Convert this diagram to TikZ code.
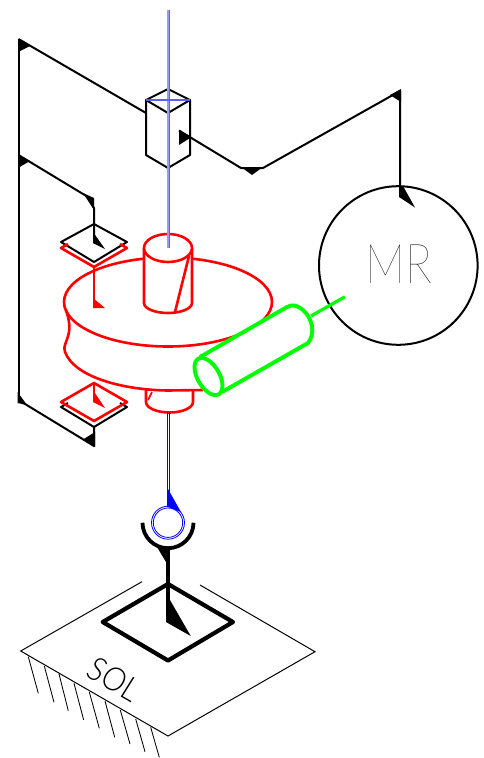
\documentclass[tikz,border=0pt]{standalone}
\usepackage{fontspec}
\newfontfamily\thinf{Lato Thin}
\newfontfamily\lightf{Lato Light}
\definecolor{pureblue}{rgb}{0,0,1}
\definecolor{pairblue}{rgb}{0.36,0.36,1}
\definecolor{pairfill}{rgb}{0.6,0.6,1}
\definecolor{puregreen}{rgb}{0,1,0}
\definecolor{purered}{rgb}{1,0,0}
\tikzset{
  wire/.style={black,line width=2pt,line join=round},
  redl/.style={purered,line width=2.6pt,line join=round},
  greenl/.style={puregreen,line width=3.9pt,line join=round},
  axisa/.style={pairblue,line width=3pt},
  axisin/.style={pairfill,line width=1.1pt},
  axisb/.style={pureblue,line width=.8pt},
  thinb/.style={pureblue,line width=.8pt},
  thick3/.style={black,line width=3.8pt,line join=round},
  fine/.style={black,line width=1pt},
}
\begin{document}
\begin{tikzpicture}[x=1pt,y=-1pt]
\useasboundingbox (0,0) rectangle (484,758);
% black wiring
\coordinate (a1) at (18.5,39);
\coordinate (a2) at (18.5,155);
\coordinate (a3) at (18.5,400);
\draw[wire] (a1) -- (18.5,403);
\draw[wire] (a3) -- (94,446) -- (94,427);
\draw[wire] (a1) -- (146,113);
\draw[wire] (a2) -- (88,197) -- (94,208) -- (94,243);
\fill (18,39) -- (30,46) -- (18,52) -- cycle;
\fill (18,155) -- (30,161) -- (18,168) -- cycle;
\fill (17.5,392) -- (27,405) -- (17.5,403) -- cycle;
\fill (83,439.5) -- (95,432) -- (95,447) -- cycle;
\fill (83,193) -- (94,198) -- (94,210) -- cycle;
\fill (93,232) -- (105,249) -- (93,243) -- cycle;
% upper diamonds
\draw[wire] (94,224) -- (127,242) -- (94,262) -- (61,242) -- cycle;
\draw[redl] (68,244) -- (61,248) -- (94,267) -- (127,248) -- (120,244);
\draw[redl] (94,267) -- (94,308);
\fill[purered] (93,298) -- (105,308) -- (93,308) -- cycle;
% disc
\draw[redl] (168,302) ellipse [x radius=104pt,y radius=44.5pt];
\draw[redl] (66,310) .. controls (71,325) and (70,332) .. (66,342) .. controls (64,347) and (64,350) .. (65,352) .. controls (75,378) and (125,390) .. (168,390.5) -- (203,390);
% lower stub
\draw[redl] (146,390) -- (146,402) .. controls (146,408) and (157,412.5) .. (169.5,412.5) .. controls (182,412.5) and (193,408) .. (193,402) -- (193,390);
\draw[redl,line width=1.6pt] (148,400) -- (152,392);
% upper cylinder
\draw[redl,fill=white] (144,248) -- (144,303) .. controls (144,309) and (156,313) .. (168,313) .. controls (180,313) and (192,309) .. (192,303) -- (192,248);
\draw[redl,fill=white] (168,248) ellipse [x radius=24pt,y radius=14pt];
\draw[redl] (189,256) -- (175,312);
% lower diamonds
\draw[wire] (68,403) -- (61,407) -- (94,427) -- (127,407) -- (120,403);
\draw[redl] (94,383) -- (127,402) -- (94,421) -- (61,402) -- cycle;
\draw[redl] (94,383) -- (94,402);
\fill[purered] (93,390) -- (105,408) -- (93,402) -- cycle;
% box
\draw[wire,fill=white] (146,100) -- (168,89) -- (190,100) -- (190,155) -- (168,168) -- (146,155) -- cycle;
\draw[wire] (146,100) -- (168,113) -- (190,100);
\draw[wire] (168,113) -- (168,168);
% blue axis
\draw[axisa] (168,10) -- (168,248);
\draw[axisin] (168,10) -- (168,248);
\draw[axisa,line width=2.2pt] (146,100) -- (190,100);
\draw[axisb] (166.9,412) -- (166.9,507);
\draw[axisb] (169.3,412) -- (169.3,507);
\fill[pureblue] (168,489) -- (181,512) -- (168,507) -- cycle;
\draw[thinb] (168,522.7) circle [radius=16.5pt];
\draw[thinb] (168,522.7) circle [radius=14.7pt];
% box right wire
\draw[wire] (179,130.5) -- (241,168) -- (263,168) -- (400,91) -- (400,197);
\fill (179,131) -- (190,138) -- (179,145) -- cycle;
\fill (241,167) -- (252,175) -- (263,167) -- cycle;
\fill (390,95) -- (401,89) -- (401,102) -- cycle;
\fill (399,186) -- (403,186) -- (415,207.5) -- (399,197) -- cycle;
% MR circle
\node[draw,circle,line width=2pt,minimum size=158.6pt,inner sep=0pt] (mr) at (398.3,265.5) {};
\node[inner sep=0pt,xscale=.82,transform shape] (mrt) at (399,264) {\thinf\fontsize{55}{55}\selectfont MR};
% green
\coordinate (g1) at (345,296.7);
\draw[greenl,line width=3.2pt] (g1) -- (311,316);
\draw[greenl,fill=white] (200,357) -- (287,307) .. controls (293,303.5) and (298,306) .. (303,310) .. controls (312,318) and (316,333) .. (308,343) -- (222,392);
\draw[greenl,fill=white,shift={(208.5,376.5)},rotate=30] (0,0) ellipse [x radius=11pt,y radius=20.5pt];
% cup and lower post
\draw[thick3] (142.5,522.7) arc [start angle=180,end angle=360,radius=25.5pt];
\draw[thick3] (168,548) -- (168,622);
\fill (157,547) -- (168,549) -- (168,563) -- (166,562) -- cycle;
\fill (166,598) -- (170,600) -- (190.7,636) -- (166,622) -- cycle;
\draw[thick3,line width=4.2pt] (168,584) -- (233,622) -- (168,660.5) -- (102.7,622) -- cycle;
% plate
\draw[fine] (142,581.7) -- (20.7,651) -- (168,736) -- (315,651.7) -- (200,585);
\draw[fine,line width=.85pt] (28.3,656.7) -- (38.3,693.3) (44.3,666) -- (54,702.3) (59,674) -- (68.3,710.7) (74,683.3) -- (83.7,720) (89.3,692) -- (99.3,728.3) (105,701) -- (114.7,737.3) (120.3,710) -- (130,744) (135.7,719) -- (145,751.7) (150.7,727.3) -- (159.3,757.3);
\node[inner sep=0pt,transform shape,cm={.78,-.45,.53,.85,(0,0)}] (sol) at (114,679) {\lightf\fontsize{33}{33}\selectfont SOL};
\end{tikzpicture}
\end{document}
